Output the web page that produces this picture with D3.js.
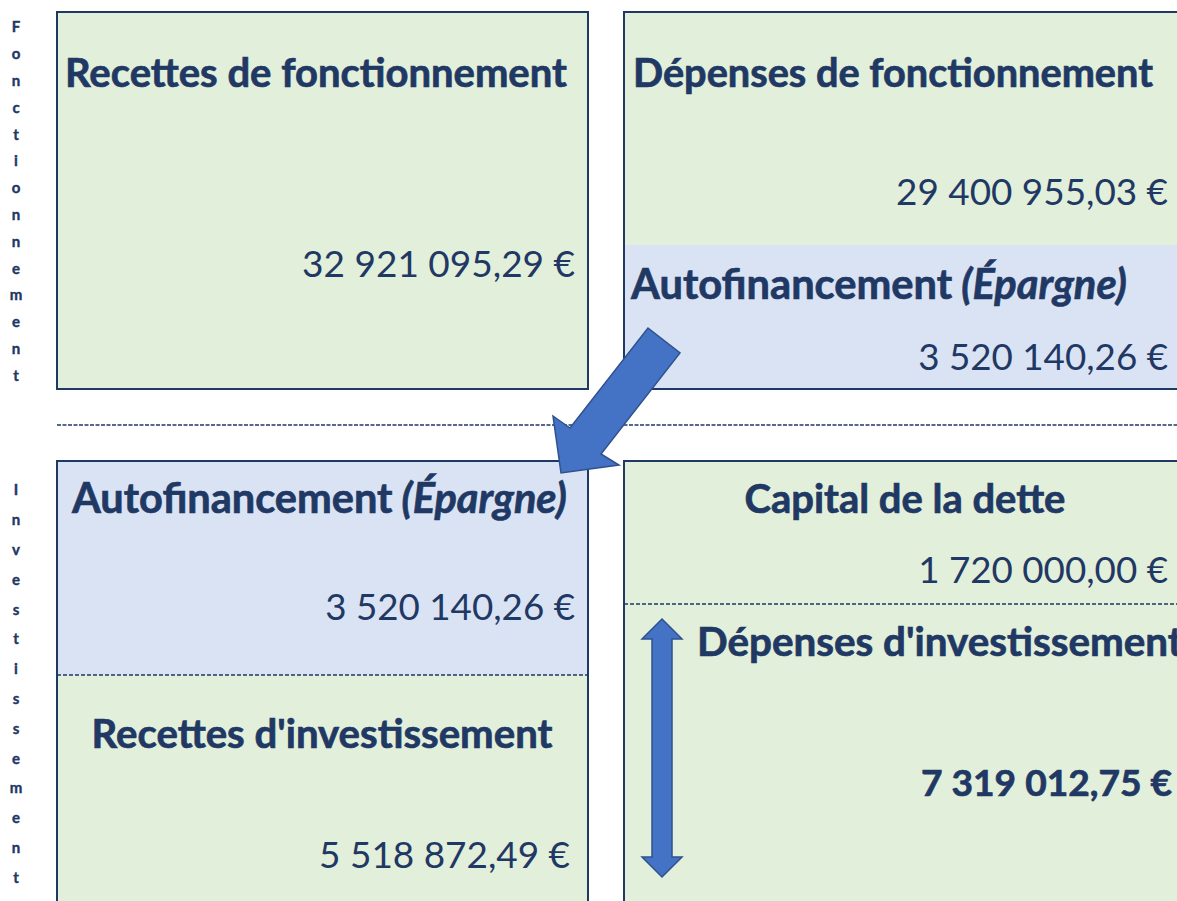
<!DOCTYPE html>
<html>
<head>
<meta charset="utf-8">
<script src="https://cdn.jsdelivr.net/npm/d3@7"></script>
<style>
  body { margin: 0; background: #fff; }
  svg { display: block; }
</style>
</head>
<body>
<svg width="1177" height="901"></svg>
<script>
var svg = d3.select("svg"),
    width = +svg.attr("width"),
    height = +svg.attr("height");

// data
var sections = ["Fonctionnement", "Investissement"];
var titles = ["Recettes de fonctionnement", "Dépenses de fonctionnement", "Autofinancement", "Autofinancement",
              "Recettes d'investissement", "Capital de la dette", "Dépenses d'investissement"];
var amounts = [32921095.29, 29400955.03, 3520140.26, 3520140.26, 5518872.49, 1720000.00, 7319012.75];

var navy = "#1f3864", green = "#e2efda", blue = "#dae3f3", arrowFill = "#4472c4", arrowStroke = "#2f528f";
var font = "Lato, 'Open Sans', sans-serif";

// french number format
var fr = d3.formatLocale({decimal: ",", thousands: "\u00a0", grouping: [3], currency: ["", "\u00a0€"]});
var fmt = function(v) { return fr.format(",.2f")(v).replace(/\u00a0/g, " ") + " €"; };

// boxes
var boxes = [
  {x: 57, y: 12, w: 531, h: 377, parts: [{y0: 12, y1: 389, fill: green}]},
  {x: 624, y: 12, w: 600, h: 377, parts: [{y0: 12, y1: 245, fill: green}, {y0: 245, y1: 389, fill: blue}]},
  {x: 57, y: 461, w: 531, h: 500, parts: [{y0: 461, y1: 675, fill: blue}, {y0: 675, y1: 961, fill: green}], dash: 675},
  {x: 624, y: 461, w: 600, h: 500, parts: [{y0: 461, y1: 961, fill: green}], dash: 604}
];

boxes.forEach(function(b) {
  b.parts.forEach(function(p) {
    svg.append("rect").attr("x", b.x).attr("y", p.y0).attr("width", b.w).attr("height", p.y1 - p.y0)
      .attr("fill", p.fill);
  });
  if (b.dash) {
    svg.append("line").attr("x1", b.x).attr("x2", b.x + b.w).attr("y1", b.dash).attr("y2", b.dash)
      .attr("stroke", navy).attr("stroke-width", 1.5).attr("stroke-dasharray", "4,2");
  }
  svg.append("rect").attr("x", b.x).attr("y", b.y).attr("width", b.w).attr("height", b.h)
    .attr("fill", "none").attr("stroke", navy).attr("stroke-width", 2);
});

// separator between sections
svg.append("line").attr("x1", 57).attr("x2", width).attr("y1", 425).attr("y2", 425)
  .attr("stroke", navy).attr("stroke-width", 1.3).attr("stroke-dasharray", "4,1.5");

// vertical section labels
var secLayout = [{y0: 27, step: 26.8}, {y0: 490, step: 29.8}];
sections.forEach(function(s, i) {
  svg.append("g").selectAll("text").data(s.split("")).enter().append("text")
    .attr("x", 16).attr("y", function(d, j) { return secLayout[i].y0 + j * secLayout[i].step; })
    .attr("dy", "0.36em").attr("text-anchor", "middle")
    .style("font", "bold 15px " + font).attr("fill", navy)
    .attr("stroke", navy).attr("stroke-width", 0.4)
    .text(function(d) { return d; });
});

// text fitting helper
function fit(sel, target) {
  var w = sel.node().getComputedTextLength();
  var fs = parseFloat(sel.style("font-size"));
  sel.style("font-size", (fs * target / w) + "px");
  return sel;
}

// titles: x, y, anchor, target width
var titleLayout = [
  {x: 65, y: 87, a: "start", w: 502},
  {x: 633, y: 87, a: "start", w: 520},
  {x: 631, y: 299, a: "start", w: 496, ital: true},
  {x: 72, y: 513, a: "start", w: 495, ital: true},
  {x: 322, y: 748, a: "middle", w: 461},
  {x: 905, y: 513, a: "middle", w: 321},
  {x: 697, y: 656, a: "start", w: 486}
];
titles.forEach(function(t, i) {
  var L = titleLayout[i];
  var txt = svg.append("text").attr("x", L.x).attr("y", L.y).attr("text-anchor", L.a)
    .attr("fill", navy).attr("stroke", navy).attr("stroke-width", 0.7)
    .style("font-family", font).style("font-weight", "bold").style("font-size", "36px");
  txt.append("tspan").text(t);
  if (L.ital) txt.append("tspan").style("font-style", "italic").text(" (Épargne)");
  fit(txt, L.w);
});

// amounts: right end, baseline, width
var amountLayout = [
  {x: 575, y: 277, w: 273},
  {x: 1168, y: 205, w: 272},
  {x: 1168, y: 370, w: 250},
  {x: 575, y: 620, w: 250},
  {x: 570, y: 868, w: 251},
  {x: 1168, y: 583, w: 250},
  {x: 1172, y: 796, w: 251, bold: true}
];
amounts.forEach(function(v, i) {
  var L = amountLayout[i];
  var txt = svg.append("text").attr("x", L.x).attr("y", L.y).attr("text-anchor", "end")
    .attr("fill", navy).style("font-family", font).style("font-weight", L.bold ? "bold" : "normal")
    .style("font-size", "33px").text(fmt(v));
  if (L.bold) txt.attr("stroke", navy).attr("stroke-width", 0.7);
  fit(txt, L.w);
});

// diagonal block arrow
var diag = [[648, 328], [680, 353], [601, 454], [619, 465], [561, 473], [553, 416], [570, 428]];
svg.append("path").attr("d", d3.line()(diag) + "Z")
  .attr("fill", arrowFill).attr("stroke", arrowStroke).attr("stroke-width", 1.5);

// vertical double arrow
var cx = 662;
var dbl = [[cx, 619], [cx + 20, 639], [cx + 10, 639], [cx + 10, 857], [cx + 20, 857], [cx, 877],
           [cx - 20, 857], [cx - 10, 857], [cx - 10, 639], [cx - 20, 639]];
svg.append("path").attr("d", d3.line()(dbl) + "Z")
  .attr("fill", arrowFill).attr("stroke", arrowStroke).attr("stroke-width", 1.5);
</script>
</body>
</html>
